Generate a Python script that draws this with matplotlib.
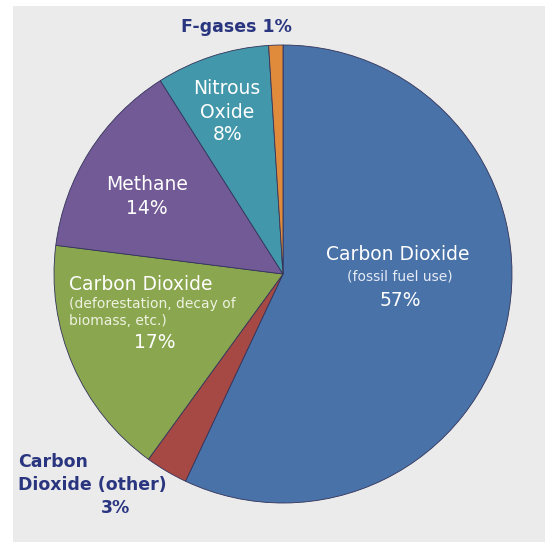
import matplotlib.pyplot as plt
from matplotlib.patches import Rectangle

# slices, clockwise from 12 o'clock
names = ["CO2 fossil", "CO2 other", "CO2 deforestation", "Methane", "Nitrous Oxide", "F-gases"]
shares = [57, 3, 17, 14, 8, 1]
colors = ["#4872a8", "#a64844", "#8aa64e", "#725a96", "#4298aa", "#e08a3c"]

W, H = 545, 542
fig = plt.figure(figsize=(W / 100, H / 100), dpi=100, facecolor="white")
ax = fig.add_axes([0, 0, 1, 1])

# light grey panel, white strip top and left
ax.add_patch(Rectangle((13, 0), W - 13, H - 6, facecolor="#ebebeb", edgecolor="none", zorder=0))

ax.pie(shares, colors=colors, startangle=90, counterclock=False,
       center=(283, H - 274), radius=229, frame=True,
       wedgeprops=dict(linewidth=0.6, edgecolor="#33335a", zorder=2))
ax.set_xlim(0, W)
ax.set_ylim(0, H)
ax.set_aspect("equal")
ax.axis("off")


def py(y):
    return H - y


white = "white"
navy = "#2a3580"
fam = "DejaVu Sans"
big, small, bold = 13.5, 10, 12.5

# inside labels
ax.text(398, py(255), "Carbon Dioxide", color=white, fontsize=big, ha="center", va="center", family=fam)
ax.text(400, py(277), "(fossil fuel use)", color="#e6ebf5", fontsize=small, ha="center", va="center", family=fam)
ax.text(400, py(300), f"{shares[0]}%", color=white, fontsize=big, ha="center", va="center", family=fam)

ax.text(69, py(284), "Carbon Dioxide", color=white, fontsize=big, ha="left", va="center", family=fam)
ax.text(69, py(304), "(deforestation, decay of", color="#eef2e0", fontsize=small, ha="left", va="center", family=fam)
ax.text(69, py(321), "biomass, etc.)", color="#eef2e0", fontsize=small, ha="left", va="center", family=fam)
ax.text(155, py(343), f"{shares[2]}%", color=white, fontsize=big, ha="center", va="center", family=fam)

ax.text(147, py(185), "Methane", color=white, fontsize=big, ha="center", va="center", family=fam)
ax.text(147, py(208), f"{shares[3]}%", color=white, fontsize=big, ha="center", va="center", family=fam)

ax.text(227, py(89), "Nitrous", color=white, fontsize=big, ha="center", va="center", family=fam)
ax.text(227, py(112), "Oxide", color=white, fontsize=big, ha="center", va="center", family=fam)
ax.text(228, py(135), f"{shares[4]}%", color=white, fontsize=big, ha="center", va="center", family=fam)

# outside labels
ax.text(236, py(27), f"F-gases {shares[5]}%", color=navy, fontsize=bold, fontweight="bold",
        ha="center", va="center", family=fam)
ax.text(18, py(462), "Carbon", color=navy, fontsize=bold, fontweight="bold", ha="left", va="center", family=fam)
ax.text(18, py(485), "Dioxide (other)", color=navy, fontsize=bold, fontweight="bold", ha="left", va="center", family=fam)
ax.text(115, py(508), f"{shares[1]}%", color=navy, fontsize=bold, fontweight="bold", ha="center", va="center", family=fam)

fig.savefig("out.png", dpi=100, facecolor=fig.get_facecolor())
